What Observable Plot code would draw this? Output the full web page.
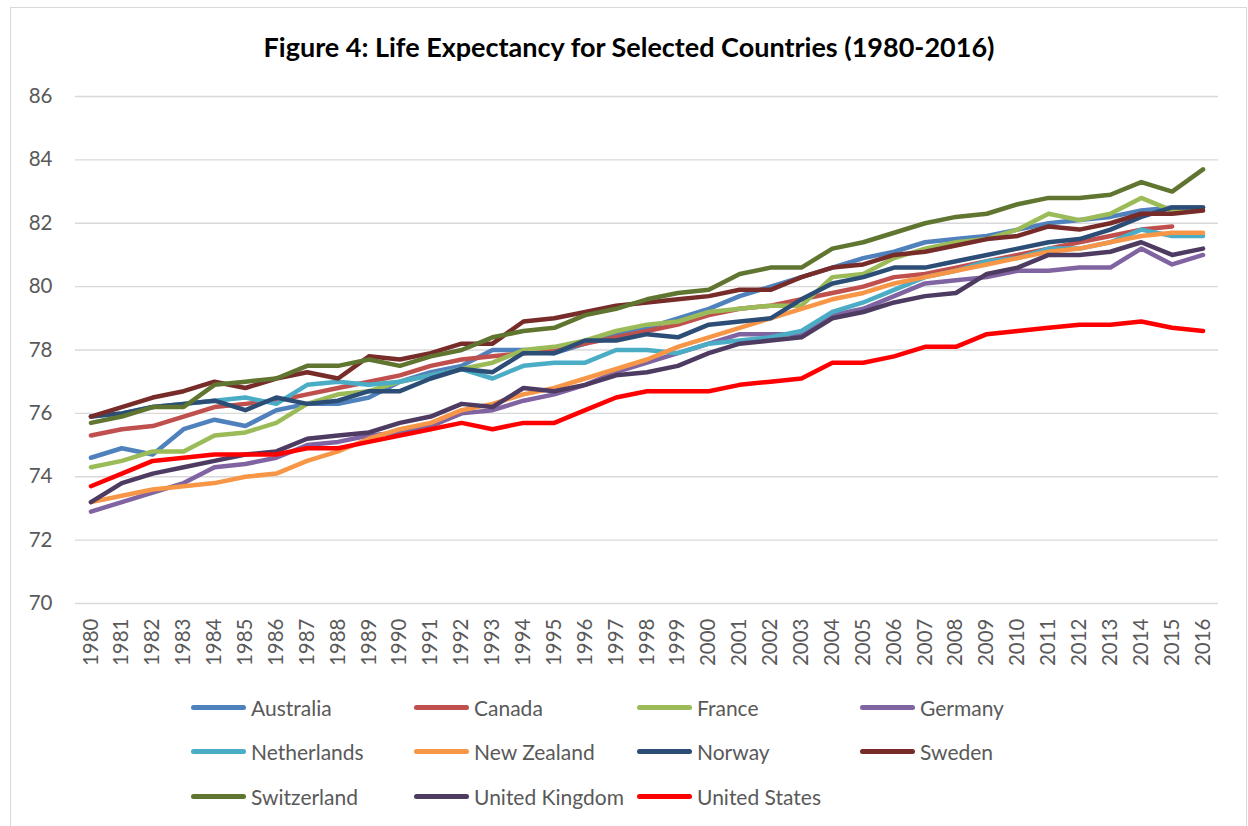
<!DOCTYPE html>
<html><head><meta charset="utf-8">
<script src="https://cdn.jsdelivr.net/npm/d3@7"></script>
<script src="https://cdn.jsdelivr.net/npm/@observablehq/plot@0.6"></script>
<style>
body{margin:0;background:#fff;font-family:Lato,"Open Sans",sans-serif;overflow:hidden;}
#frame{position:absolute;left:10px;top:7px;width:1237px;height:840px;border:1.5px solid #d9d9d9;box-sizing:border-box;}
#title{position:absolute;left:0;width:1258px;top:30px;line-height:34px;text-align:center;font-weight:bold;font-size:27px;color:#000;}
#chart{position:absolute;left:0;top:0;}
.item{position:absolute;height:26px;display:flex;align-items:center;font-size:21px;color:#595959;white-space:nowrap;}
.sw{width:55px;height:5px;border-radius:3px;margin-right:5px;}
</style></head><body>
<div id="frame"></div>
<div id="chart"></div>
<div id="title">Figure 4: Life Expectancy for Selected Countries (1980-2016)</div>
<div id="legend"></div>
<script>
const years = d3.range(1980, 2017);
const countries = ["Australia","Canada","France","Germany","Netherlands","New Zealand","Norway","Sweden","Switzerland","United Kingdom","United States"];
const colors = ["#4F81BD","#C0504D","#9BBB59","#8064A2","#4BACC6","#F79646","#2C4D75","#772C2A","#5F7530","#4D3B62","#FF0000"];

const australia = [74.6,74.9,74.7,75.5,75.8,75.6,76.1,76.3,76.3,76.5,77.0,77.3,77.5,78.0,78.0,77.9,78.2,78.5,78.7,79.0,79.3,79.7,80.0,80.3,80.6,80.9,81.1,81.4,81.5,81.6,81.8,82.0,82.1,82.2,82.4,82.5,82.5];
const canada = [75.3,75.5,75.6,75.9,76.2,76.3,76.4,76.6,76.8,77.0,77.2,77.5,77.7,77.8,77.9,78.0,78.2,78.4,78.6,78.8,79.1,79.3,79.4,79.6,79.8,80.0,80.3,80.4,80.6,80.8,81.0,81.2,81.4,81.6,81.8,81.9,null];
const france = [74.3,74.5,74.8,74.8,75.3,75.4,75.7,76.3,76.6,76.7,77.0,77.2,77.4,77.6,78.0,78.1,78.3,78.6,78.8,78.9,79.2,79.3,79.4,79.4,80.3,80.4,80.9,81.2,81.4,81.5,81.8,82.3,82.1,82.3,82.8,82.4,82.5];
const germany = [72.9,73.2,73.5,73.8,74.3,74.4,74.6,75.0,75.1,75.3,75.4,75.6,76.0,76.1,76.4,76.6,76.9,77.3,77.6,77.9,78.2,78.5,78.5,78.5,79.1,79.3,79.7,80.1,80.2,80.3,80.5,80.5,80.6,80.6,81.2,80.7,81.0];
const netherlands = [75.9,76.0,76.2,76.3,76.4,76.5,76.3,76.9,77.0,76.9,77.0,77.2,77.4,77.1,77.5,77.6,77.6,78.0,78.0,77.9,78.2,78.3,78.4,78.6,79.2,79.5,79.9,80.3,80.5,80.8,80.9,81.2,81.2,81.4,81.8,81.6,81.6];
const newZealand = [73.2,73.4,73.6,73.7,73.8,74.0,74.1,74.5,74.8,75.2,75.5,75.7,76.1,76.3,76.6,76.8,77.1,77.4,77.7,78.1,78.4,78.7,79.0,79.3,79.6,79.8,80.1,80.3,80.5,80.7,80.9,81.1,81.2,81.4,81.6,81.7,81.7];
const norway = [75.9,76.0,76.2,76.3,76.4,76.1,76.5,76.3,76.4,76.7,76.7,77.1,77.4,77.3,77.9,77.9,78.3,78.3,78.5,78.4,78.8,78.9,79.0,79.6,80.1,80.3,80.6,80.6,80.8,81.0,81.2,81.4,81.5,81.8,82.2,82.5,82.5];
const sweden = [75.9,76.2,76.5,76.7,77.0,76.8,77.1,77.3,77.1,77.8,77.7,77.9,78.2,78.2,78.9,79.0,79.2,79.4,79.5,79.6,79.7,79.9,79.9,80.3,80.6,80.7,81.0,81.1,81.3,81.5,81.6,81.9,81.8,82.0,82.3,82.3,82.4];
const switzerland = [75.7,75.9,76.2,76.2,76.9,77.0,77.1,77.5,77.5,77.7,77.5,77.8,78.0,78.4,78.6,78.7,79.1,79.3,79.6,79.8,79.9,80.4,80.6,80.6,81.2,81.4,81.7,82.0,82.2,82.3,82.6,82.8,82.8,82.9,83.3,83.0,83.7];
const unitedKingdom = [73.2,73.8,74.1,74.3,74.5,74.7,74.8,75.2,75.3,75.4,75.7,75.9,76.3,76.2,76.8,76.7,76.9,77.2,77.3,77.5,77.9,78.2,78.3,78.4,79.0,79.2,79.5,79.7,79.8,80.4,80.6,81.0,81.0,81.1,81.4,81.0,81.2];
const unitedStates = [73.7,74.1,74.5,74.6,74.7,74.7,74.7,74.9,74.9,75.1,75.3,75.5,75.7,75.5,75.7,75.7,76.1,76.5,76.7,76.7,76.7,76.9,77.0,77.1,77.6,77.6,77.8,78.1,78.1,78.5,78.6,78.7,78.8,78.8,78.9,78.7,78.6];
const yTicks = [70,72,74,76,78,80,82,84,86];

const series = [australia,canada,france,germany,netherlands,newZealand,norway,sweden,switzerland,unitedKingdom,unitedStates];
const rows = [];
series.forEach((vals, i) => years.forEach((y, j) => { if (vals[j] != null) rows.push({country: countries[i], year: y, value: vals[j]}); }));

const chart = Plot.plot({
  width: 1248, height: 690,
  marginTop: 96, marginBottom: 87, marginLeft: 75, marginRight: 30,
  style: {fontFamily: 'Lato, "Open Sans", sans-serif', fontSize: "20.5px", color: "#595959", background: "transparent"},
  x: {type: "linear", domain: [1979.5, 2016.5], label: null},
  y: {domain: [70, 86], label: null},
  color: {domain: countries, range: colors},
  marks: [
    Plot.ruleY(yTicks, {stroke: "#d9d9d9", strokeWidth: 1.4}),
    Plot.axisY({ticks: yTicks, tickSize: 0, tickPadding: 23, tickFormat: d => String(d), fontSize: 20.5}),
    Plot.axisX({ticks: years, tickSize: 0, tickPadding: 15, tickRotate: -90, tickFormat: d => String(d), fontSize: 20.5}),
    Plot.line(rows, {x: "year", y: "value", z: "country", stroke: "country", strokeWidth: 4.5, strokeLinecap: "round", strokeLinejoin: "round"})
  ]
});
document.getElementById("chart").appendChild(chart);

const legend = document.getElementById("legend");
countries.forEach((c, i) => {
  const col = i % 4, row = Math.floor(i / 4);
  const el = document.createElement("div");
  el.className = "item";
  el.style.left = (191 + col * 223) + "px";
  el.style.top = (694 + row * 44.5) + "px";
  el.innerHTML = `<div class="sw" style="background:${colors[i]}"></div><span>${c}</span>`;
  legend.appendChild(el);
});
</script>
</body></html>
